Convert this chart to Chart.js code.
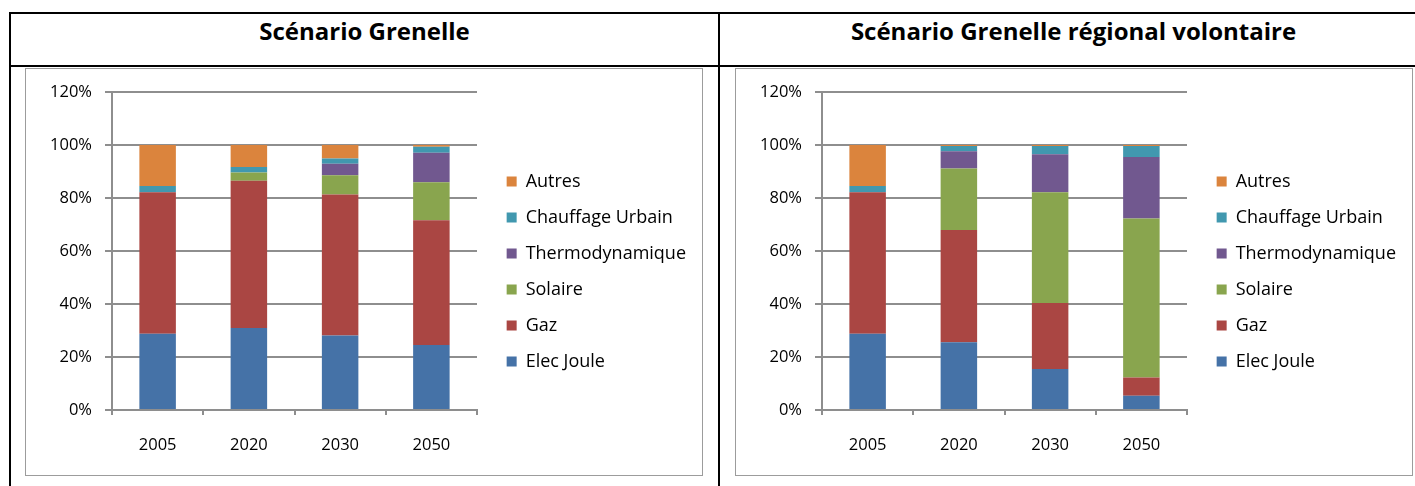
<!DOCTYPE html>
<html lang="fr">
<head>
<meta charset="utf-8">
<title>Scénario Grenelle</title>
<script src="https://cdn.jsdelivr.net/npm/chart.js@4.4.1/dist/chart.umd.min.js"></script>
<style>
    body {
        margin: 0;
        width: 1415px;
        height: 486px;
        overflow: hidden;
        background: #fff;
        font-family: 'Open Sans', sans-serif;
        position: relative;
    }
    .rule {
        position: absolute;
        background: #000;
    }
    .title {
        position: absolute;
        top: 15px;
        font-weight: bold;
        font-size: 24px;
        line-height: 32px;
        text-align: center;
        color: #000;
    }
    .chart-box {
        position: absolute;
        top: 68px;
        width: 676px;
        height: 406px;
        border: 1px solid #9c9c9c;
    }
    .chart-box canvas {
        display: block;
    }
</style>
</head>
<body>
    <!-- table frame -->
    <div class="rule" style="left:9px; top:12px; width:1420px; height:2px;"></div>
    <div class="rule" style="left:9px; top:12px; width:2px; height:480px;"></div>
    <div class="rule" style="left:9px; top:65px; width:1420px; height:2px;"></div>
    <div class="rule" style="left:718px; top:12px; width:2px; height:480px;"></div>

    <div class="title" style="left:11px; width:707px;">Scénario Grenelle</div>
    <div class="title" style="left:720px; width:707px;">Scénario Grenelle régional volontaire</div>

    <div class="chart-box" style="left:25px;">
        <canvas id="grenelleChart" width="676" height="406"></canvas>
    </div>
    <div class="chart-box" style="left:735px;">
        <canvas id="regionalChart" width="676" height="406"></canvas>
    </div>

<script>
// Categories
const years = ['2005', '2020', '2030', '2050'];
const seriesNames = ['Elec Joule', 'Gaz', 'Solaire', 'Thermodynamique', 'Chauffage Urbain', 'Autres'];

// Scénario Grenelle (% of total)
const grenelleElec = [28.8, 30.9, 28.1, 24.5];
const grenelleGaz = [53.3, 55.6, 53.2, 47.1];
const grenelleSolaire = [0, 3.1, 7.3, 14.3];
const grenelleThermo = [0, 0, 4.3, 11.1];
const grenelleUrbain = [2.4, 2.1, 2.0, 2.3];
const grenelleAutres = [15.5, 8.3, 5.1, 0.7];

// Scénario Grenelle régional volontaire (% of total)
const regionalElec = [28.8, 25.6, 15.5, 5.4];
const regionalGaz = [53.3, 42.3, 24.9, 6.9];
const regionalSolaire = [0, 23.2, 41.7, 59.9];
const regionalThermo = [0, 6.5, 14.4, 23.2];
const regionalUrbain = [2.4, 2.0, 3.1, 4.2];
const regionalAutres = [15.5, 0.4, 0.4, 0.4];

// Value axis
const yMin = 0;
const yMax = 120;
const yStep = 20;

// Series colours (Excel 2007 palette)
const seriesColors = ['#4572A7', '#AA4643', '#89A54E', '#71588F', '#4198AF', '#DB843D'];

Chart.defaults.font.family = "'Open Sans', sans-serif";
Chart.defaults.color = '#000';

// Plot area edges inside the canvas
const plotLeft = 86;
const plotRight = 451;
const gridColor = '#8e8e8e';

function createStackedChart(canvasId, seriesValues) {
    const ctx = document.getElementById(canvasId).getContext('2d');

    return new Chart(ctx, {
        type: 'bar',
        data: {
            labels: years,
            datasets: seriesNames.map((name, i) => ({
                label: name,
                data: seriesValues[i],
                backgroundColor: seriesColors[i],
                borderWidth: 0,
                categoryPercentage: 1,
                barPercentage: 0.4
            }))
        },
        options: {
            responsive: false,
            animation: false,
            devicePixelRatio: 1,
            layout: {
                padding: { top: 21, bottom: 22, left: 0, right: 6 }
            },
            plugins: {
                tooltip: { enabled: false },
                legend: {
                    position: 'right',
                    reverse: true,
                    maxWidth: 400,
                    labels: {
                        boxWidth: 10,
                        boxHeight: 10,
                        padding: 18,
                        color: '#000',
                        font: { size: 18 }
                    }
                }
            },
            scales: {
                x: {
                    stacked: true,
                    offset: true,
                    grid: {
                        offset: true,
                        drawOnChartArea: false,
                        drawTicks: true,
                        tickLength: 5,
                        color: gridColor,
                        lineWidth: 2
                    },
                    border: { color: gridColor, width: 2 },
                    ticks: {
                        padding: 20,
                        font: { size: 16.5 },
                        color: '#000'
                    },
                    afterFit: scale => { scale.height = 43; }
                },
                y: {
                    stacked: true,
                    min: yMin,
                    max: yMax,
                    grid: {
                        color: gridColor,
                        lineWidth: 2,
                        tickLength: 7
                    },
                    border: { color: gridColor, width: 2 },
                    ticks: {
                        stepSize: yStep,
                        padding: 13,
                        font: { size: 16.5 },
                        color: '#000',
                        callback: value => value + '%'
                    },
                    afterFit: scale => { scale.width = plotLeft; }
                },
                // empty spacer between the plot area and the legend
                gap: {
                    type: 'linear',
                    position: 'right',
                    grid: { display: false, drawTicks: false },
                    border: { display: false },
                    ticks: { display: false },
                    afterFit: scale => {
                        const chart = scale.chart;
                        const legendWidth = chart.legend ? chart.legend.width : 0;
                        scale.width = Math.max(0, chart.width - 6 - legendWidth - plotRight);
                    }
                }
            }
        }
    });
}

createStackedChart('grenelleChart', [
    grenelleElec, grenelleGaz, grenelleSolaire, grenelleThermo, grenelleUrbain, grenelleAutres
]);

createStackedChart('regionalChart', [
    regionalElec, regionalGaz, regionalSolaire, regionalThermo, regionalUrbain, regionalAutres
]);
</script>
</body>
</html>
